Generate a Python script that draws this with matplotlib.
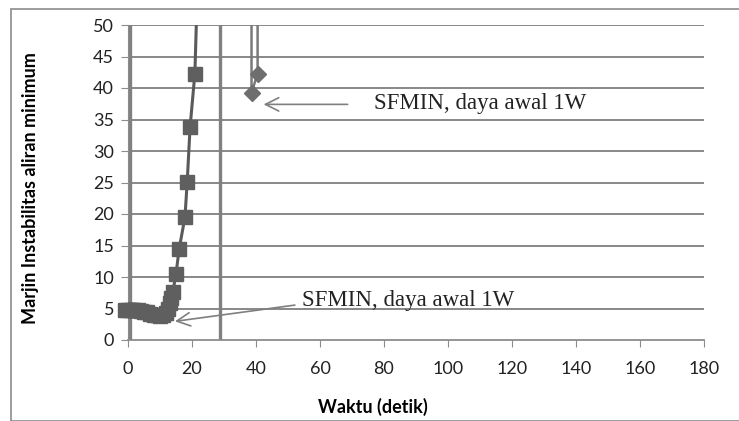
import matplotlib
matplotlib.use("Agg")
from matplotlib import pyplot as plt
from matplotlib.patches import Rectangle

# series 1 (squares), SFMIN daya awal 1W
waktu_1 = [-1, 0, 1, 2, 3, 4, 5, 6, 7, 8, 9, 10, 11, 12, 12.5, 13, 13.5, 14,
           15, 16, 17.8, 18.5, 19.4, 20.9, 22.5]
marjin_1 = [4.8, 4.8, 4.8, 4.7, 4.7, 4.6, 4.5, 4.4, 4.2, 4.0, 3.9, 3.8, 3.9,
            4.3, 5.0, 5.8, 6.6, 7.6, 10.5, 14.5, 19.5, 25.1, 33.8, 42.3, 70]

# series 2 (diamonds)
waktu_2 = [38.6, 38.6, 40.5, 40.5]
marjin_2 = [70, 39.2, 42.3, 70]

# vertical lines
garis_x = [0.6, 28.8]

xticks = list(range(0, 181, 20))
yticks = list(range(0, 51, 5))

plt.rcParams['font.family'] = ['Lato', 'DejaVu Sans']

fig = plt.figure(figsize=(7.39, 4.21), dpi=100)
ax = fig.add_axes([128 / 739, 1 - 340 / 421, 576 / 739, 315 / 421])

fig.patches.append(Rectangle((11 / 739, 0), 1, 1 - 9 / 421, transform=fig.transFigure,
                             fill=False, edgecolor='#8c8c8c', linewidth=1.2))

for y in yticks[1:]:
    ax.axhline(y, color='#7f7f7f', linewidth=1.3, zorder=1)

for gx in garis_x:
    ax.plot([gx, gx], [0, 50], color='#808080', linewidth=2.4, zorder=2)

ax.plot(waktu_1, marjin_1, color='#5a5a5a', linewidth=2.2, marker='s', markersize=9.5,
        markerfacecolor='#5f5f5f', markeredgecolor='#5f5f5f', zorder=3, clip_on=True)
ax.plot(waktu_1[:3], marjin_1[:3], linestyle='none', marker='s', markersize=9.5,
        color='#5f5f5f', zorder=3, clip_on=False)
ax.plot(waktu_2, marjin_2, color='#7a7a7a', linewidth=1.8, marker='D', markersize=8,
        markerfacecolor='#6e6e6e', markeredgecolor='#6e6e6e', zorder=3)

ax.set_xlim(0, 180)
ax.set_ylim(0, 50)
ax.set_xticks(xticks)
ax.set_yticks(yticks)
ax.tick_params(axis='both', direction='out', length=5, color='#8c8c8c',
               labelsize=13, labelcolor='#222222')
ax.tick_params(axis='x', pad=10)
ax.tick_params(axis='y', pad=5)
for s in ['top', 'right']:
    ax.spines[s].set_visible(False)
ax.spines['left'].set_color('#8c8c8c')
ax.spines['bottom'].set_color('#8c8c8c')
ax.spines['bottom'].set_linewidth(1.3)

ax.set_xlabel('Waktu (detik)', fontsize=13, fontweight='bold')
ax.xaxis.set_label_coords(0.425, -0.183)
ax.set_ylabel('Marjin Instabilitas aliran minimum', fontsize=13, fontweight='bold')
ax.yaxis.set_label_coords(-0.155, 0.483)

arrow = dict(arrowstyle='->', color='#7f7f7f', linewidth=1.2, mutation_scale=24)
ax.annotate('', xy=(41.5, 37.4), xytext=(69.5, 37.4), arrowprops=arrow)
ax.text(77, 37.6, 'SFMIN, daya awal 1W', family='Liberation Serif', fontsize=16.5,
        color='#222222', va='center', ha='left', zorder=4)
ax.annotate('', xy=(13.8, 2.9), xytext=(53, 5.6), arrowprops=arrow)
ax.text(54.4, 6.3, 'SFMIN, daya awal 1W', family='Liberation Serif', fontsize=16.5,
        color='#222222', va='center', ha='left', zorder=4)

fig.savefig('out.png', dpi=100)
